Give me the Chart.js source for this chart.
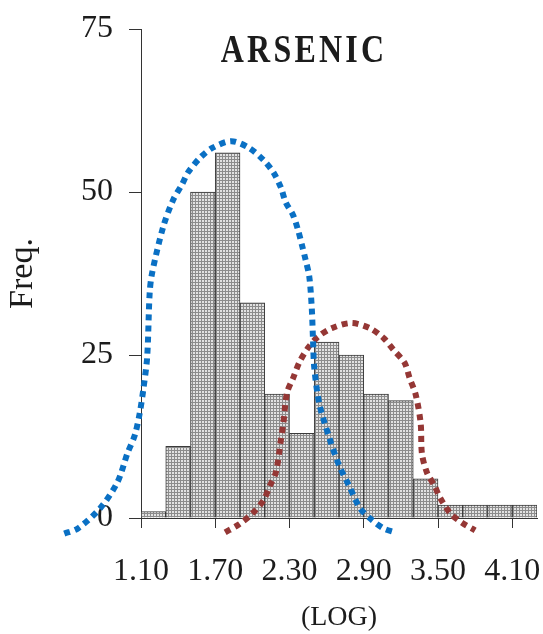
<!DOCTYPE html>
<html>
<head>
<meta charset="utf-8">
<title>Arsenic</title>
<script src="https://cdn.jsdelivr.net/npm/chart.js@4.4.1/dist/chart.umd.min.js"></script>
<style>
  html, body { margin: 0; padding: 0; background: #fff; }
  #wrap { width: 543px; height: 634px; }
</style>
</head>
<body>
<div id="wrap"><canvas id="arsenicChart"></canvas></div>
<script>
// histogram bins (log scale), each bin 0.2 wide
const binCenters = [1.2, 1.4, 1.6, 1.8, 2.0, 2.2, 2.4, 2.6, 2.8, 3.0, 3.2, 3.4, 3.6, 3.8, 4.0, 4.2];
const freq = [1, 11, 50, 56, 33, 19, 13, 27, 25, 19, 18, 6, 2, 2, 2, 2];

const xTicks = [1.1, 1.7, 2.3, 2.9, 3.5, 4.1];
const yTicks = [0, 25, 50, 75];

// blue dotted curve (first population)
const blueX = [0.48, 0.59, 0.77, 0.91, 0.99, 1.05, 1.09, 1.12, 1.15, 1.17, 1.19, 1.28, 1.36, 1.43, 1.48, 1.58, 1.68, 1.83,
               1.97, 2.09, 2.17, 2.23, 2.27, 2.33, 2.37, 2.40, 2.43, 2.46, 2.48, 2.49, 2.50, 2.54, 2.62, 2.70, 2.78, 2.87, 2.96, 3.06, 3.15];
const blueY = [-2.4, -1.6, 1.5, 5.5, 9.9, 12.7, 16.1, 19.9, 24.7, 34.5, 37.6, 44.7, 48.8, 51.1, 53.0, 55.3, 56.8, 57.8,
               56.8, 54.9, 53.0, 50.7, 48.4, 46.4, 44.1, 41.9, 39.6, 37.0, 32.2, 27.3, 23.1, 17.6, 12.4, 8.1, 5.0, 1.5, -0.2, -1.6, -2.2];

// red dotted curve (second population)
const redX = [1.78, 1.89, 2.00, 2.09, 2.14, 2.19, 2.23, 2.25, 2.28, 2.33, 2.38, 2.45, 2.53, 2.64, 2.80,
              2.95, 3.06, 3.14, 3.23, 3.27, 3.32, 3.36, 3.37, 3.41, 3.47, 3.52, 3.60, 3.70, 3.80];
const redY = [-2.2, -1.0, 0.7, 2.7, 4.9, 7.0, 11.9, 14.5, 19.2, 21.5, 23.9, 26.1, 27.8, 29.1, 29.9,
              29.1, 27.6, 25.8, 23.8, 21.5, 18.9, 14.5, 9.9, 7.0, 5.0, 3.0, 0.7, -0.8, -1.9];

const textColor = '#1c1c1c';
const axisColor = '#333';
const serif = '"Liberation Serif", "DejaVu Serif", serif';

// stippled grey fill like the printed histogram
function stipple() {
  const c = document.createElement('canvas');
  c.width = 3; c.height = 3;
  const g = c.getContext('2d');
  g.fillStyle = '#e2e2e2';
  g.fillRect(0, 0, 3, 3);
  g.fillStyle = '#8c8c8c';
  g.fillRect(0, 0, 3, 1);
  g.fillRect(0, 0, 1, 3);
  return g.createPattern(c, 'repeat');
}

const pts = (xs, ys) => xs.map((x, i) => ({x: x, y: ys[i]}));

// title sits inside the plot, drawn a bit condensed with wide letters
const titlePlugin = {
  id: 'arsenicTitle',
  afterDraw(chart) {
    const {ctx, chartArea} = chart;
    ctx.save();
    ctx.translate(chartArea.left + 163, chartArea.top + 33);
    ctx.scale(0.8, 1);
    ctx.font = 'bold 40px ' + serif;
    ctx.letterSpacing = '4px';
    ctx.textAlign = 'center';
    ctx.textBaseline = 'alphabetic';
    ctx.fillStyle = textColor;
    ctx.fillText('ARSENIC', 0, 0);
    ctx.restore();
  }
};

new Chart(document.getElementById('arsenicChart'), {
  type: 'bar',
  data: {
    datasets: [
      {
        type: 'line',
        label: 'Population 1',
        data: pts(blueX, blueY),
        borderColor: '#0a70c4',
        borderWidth: 6,
        borderDash: [6, 5],
        borderCapStyle: 'butt',
        pointRadius: 0,
        tension: 0.3,
        fill: false,
        clip: false,
        order: 0
      },
      {
        type: 'line',
        label: 'Population 2',
        data: pts(redX, redY),
        borderColor: '#953735',
        borderWidth: 6,
        borderDash: [6, 5],
        borderCapStyle: 'butt',
        pointRadius: 0,
        tension: 0.3,
        fill: false,
        clip: false,
        order: 1
      },
      {
        label: 'Freq.',
        data: pts(binCenters, freq),
        backgroundColor: stipple(),
        borderColor: '#3a3a3a',
        borderWidth: 1,
        barPercentage: 1,
        categoryPercentage: 1,
        order: 2
      }
    ]
  },
  options: {
    responsive: true,
    maintainAspectRatio: false,
    animation: false,
    layout: { padding: { top: 29, right: 6, bottom: 0, left: 0 } },
    plugins: {
      legend: { display: false },
      tooltip: { enabled: false }
    },
    scales: {
      x: {
        type: 'linear',
        bounds: 'data',
        offset: false,
        afterDataLimits: s => { s.min = 1.1; s.max = 4.3; },
        afterBuildTicks: s => { s.ticks = xTicks.map(v => ({value: v})); },
        afterFit: s => { s.height = 116; s.paddingLeft = 0; s.paddingRight = 0; },
        ticks: {
          callback: v => v.toFixed(2),
          font: { family: serif, size: 32 },
          color: textColor,
          padding: 24,
          maxRotation: 0,
          autoSkip: false
        },
        grid: { drawOnChartArea: false, offset: false, tickLength: 10, color: axisColor },
        border: { color: axisColor, width: 1 },
        title: {
          display: true,
          text: '(LOG)',
          font: { family: serif, size: 28 },
          color: textColor,
          padding: { top: 0, bottom: 0 }
        }
      },
      y: {
        min: 0,
        max: 75,
        afterBuildTicks: s => { s.ticks = yTicks.map(v => ({value: v})); },
        afterFit: s => { s.width = 141; s.paddingTop = 0; s.paddingBottom = 0; },
        ticks: {
          font: { family: serif, size: 32 },
          color: textColor,
          padding: 16
        },
        grid: { drawOnChartArea: false, tickLength: 12, color: axisColor },
        border: { color: axisColor, width: 1 },
        title: {
          display: true,
          text: 'Freq.',
          font: { family: serif, size: 34 },
          color: textColor,
          padding: { top: 3, bottom: 0 }
        }
      }
    }
  },
  plugins: [titlePlugin]
});
</script>
</body>
</html>
